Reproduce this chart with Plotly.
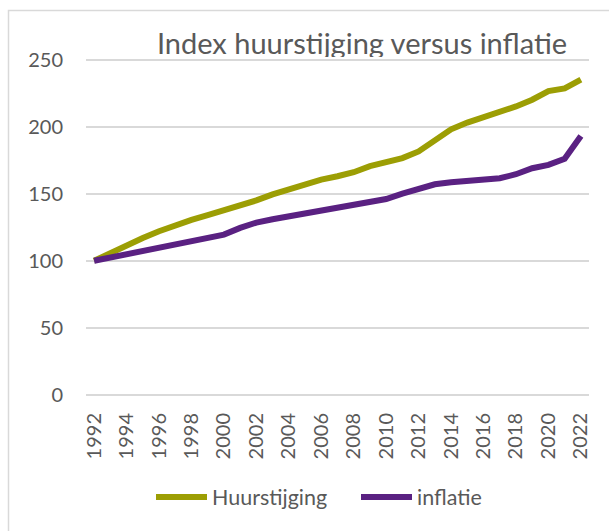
import plotly.graph_objects as go

years = list(range(1992, 2023))
huurstijging = [100, 106, 112, 117, 122, 126.5, 130.5, 134, 137.5, 141, 145, 149.5, 153.5, 157, 160.5,
                163, 166, 170.5, 173, 176.5, 181.5, 190, 198, 203, 207, 210.5, 215, 220, 226.5, 228.5, 235]
inflatie = [100, 102.5, 105, 107.5, 109.5, 112, 114.5, 117, 119.5, 124.5, 128.5, 131, 133, 135, 137,
            139, 142, 144, 146, 150, 154, 157, 158.5, 159.3, 159.8, 161.5, 164.5, 169, 171.5, 176, 193]
series_names = ["Huurstijging", "inflatie"]
series_colors = ["#9C9E04", "#5A2182"]
title_text = "Index huurstijging versus inflatie"
y_ticks = [0, 50, 100, 150, 200, 250]
x_ticks = list(range(1992, 2023, 2))

W, H = 609, 531
FONT = "Lato, 'Open Sans', sans-serif"
TXT = "#595959"
GRID = "#D9D9D9"

# pixel layout (window coordinates; page margin removed below)
left, right_px = 86, 589
top_px, bottom_px = 12, 397
y0_px, y250_px = 395.0, 59.5
k = (y0_px - y250_px) / 250.0
main_top_px = 58.0
title_clip_px = 57.0
plot_h = bottom_px - top_px
pw = right_px - left

ymin = -(bottom_px - y0_px) / k
ymax = 250 + (y250_px - main_top_px) / k

fig = go.Figure()
for name, vals, col in zip(series_names, [huurstijging, inflatie], series_colors):
    fig.add_trace(go.Scatter(x=years, y=vals, mode="lines", name=name,
                             line=dict(color=col, width=6), xaxis="x", yaxis="y"))

# title drawn in its own clipped strip so descenders are hidden like the reference
title_cx = (362 - left) / pw
fs_title = 29
baseline = 56.5
pt_px = baseline - 0.35 * fs_title
fig.add_trace(go.Scatter(x=[title_cx], y=[(title_clip_px - pt_px) / (title_clip_px - top_px)],
                         mode="text", text=[title_text], textposition="middle center",
                         textfont=dict(family=FONT, size=fs_title, color=TXT),
                         cliponaxis=True, showlegend=False, hoverinfo="skip",
                         xaxis="x2", yaxis="y2"))

fig.update_layout(
    width=W, height=H,
    margin=dict(l=left, r=W - right_px, t=top_px, b=H - bottom_px, pad=0, autoexpand=False),
    paper_bgcolor="white", plot_bgcolor="white",
    font=dict(family=FONT, color=TXT, size=20),
    showlegend=True,
    legend=dict(orientation="h", x=(151 - left) / pw, xanchor="left",
                y=(bottom_px - 497) / plot_h, yanchor="middle",
                font=dict(family=FONT, size=21.5, color=TXT),
                itemwidth=51, entrywidth=139, entrywidthmode="pixels",
                bgcolor="rgba(0,0,0,0)"),
    xaxis=dict(range=[1991.5, 2022.5], tickmode="array", tickvals=x_ticks,
               ticktext=[str(v) for v in x_ticks], tickangle=-90,
               showgrid=False, zeroline=False, showline=False, ticks="",
               ticklabelstandoff=11, tickfont=dict(family=FONT, size=20, color=TXT),
               anchor="y", fixedrange=True, automargin=False),
    yaxis=dict(range=[ymin, ymax], domain=[0, (bottom_px - main_top_px) / plot_h],
               tickmode="array", tickvals=y_ticks, showgrid=True, gridcolor=GRID,
               gridwidth=2, zeroline=False, showline=False, ticks="",
               ticklabelstandoff=22, tickfont=dict(family=FONT, size=20, color=TXT),
               anchor="x", fixedrange=True, automargin=False),
    xaxis2=dict(range=[0, 1], domain=[0, 1], anchor="y2", visible=False, fixedrange=True),
    yaxis2=dict(range=[0, 1], domain=[(bottom_px - title_clip_px) / plot_h, 1], anchor="x2",
                visible=False, fixedrange=True),
)

# chart frame (light border top/left, cut by window at right/bottom)
fig.add_shape(type="rect", xref="paper", yref="paper",
              x0=(8.5 - left) / pw, x1=(W + 20 - left) / pw,
              y0=(bottom_px - (H + 20)) / plot_h, y1=(bottom_px - 10.5) / plot_h,
              line=dict(color=GRID, width=1.5), fillcolor="rgba(0,0,0,0)", layer="below")

fig.write_html("out.html", config={"displayModeBar": False},
               post_script="document.body.style.margin='0';document.body.style.overflow='hidden';")
